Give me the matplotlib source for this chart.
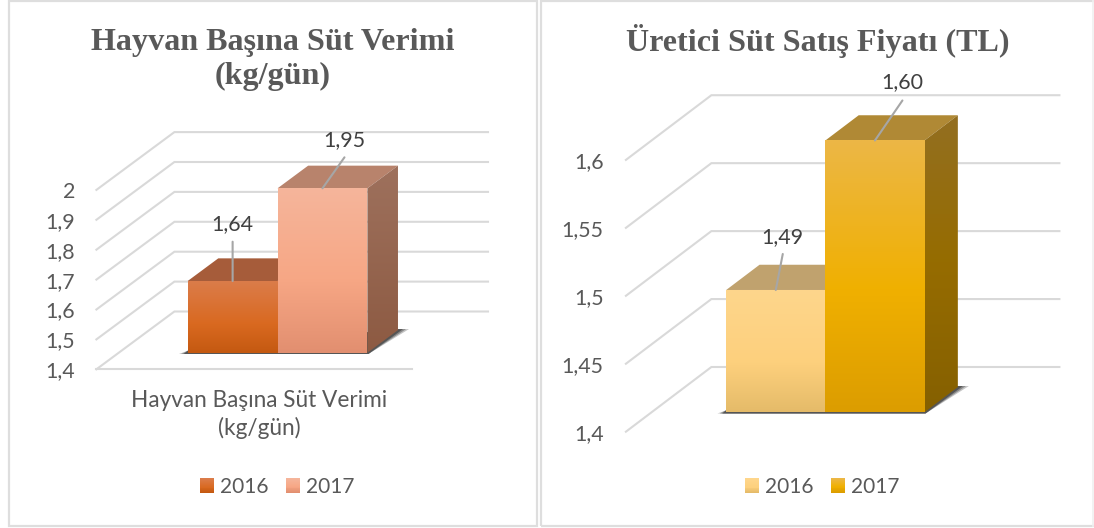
import numpy as np
import matplotlib
matplotlib.use("Agg")
import matplotlib.pyplot as plt
from matplotlib.patches import Polygon, Rectangle
from matplotlib.lines import Line2D
from matplotlib.legend_handler import HandlerBase

W, H, DPI = 1094, 528, 100

# ---- data ----
series_names = ["2016", "2017"]
milk_yield = [1.64, 1.95]
milk_labels = ["1,64", "1,95"]
milk_ticks = [1.4, 1.5, 1.6, 1.7, 1.8, 1.9, 2.0]
milk_ticklabels = ["1,4", "1,5", "1,6", "1,7", "1,8", "1,9", "2"]
milk_category = "Hayvan Başına Süt Verimi\n(kg/gün)"
milk_title = "Hayvan Başına Süt Verimi\n(kg/gün)"

price = [1.49, 1.60]
price_labels = ["1,49", "1,60"]
price_ticks = [1.4, 1.45, 1.5, 1.55, 1.6]
price_ticklabels = ["1,4", "1,45", "1,5", "1,55", "1,6"]
price_title = "Üretici Süt Satış Fiyatı (TL)"

# ---- styles ----
TXT = "#595959"
LBL = "#404040"
GRID = "#d9d9d9"
LEAD = "#a6a6a6"
FONT = "Lato"
FS = 15.4
LEGEND_FS = 15.0


def c(*rgb):
    return np.array(rgb) / 255.0


left_style = dict(
    axpx=(0, 539), y0=369.3, scale=299.0, gx=96.4, gxr=488.0, dx=78.0, dy=57.8,
    bx0=187.7, bw=89.85, tf=0.286, tb=0.678,
    tick_right=75.0, floor=411.5,
    title_xy=(273, 59.5), cat_xy=(259.5, 390),
    legend_xy=(277.5, 487),
    lead=[((0, 39.3), (0, 57)), ((22, 31), (22, 48.7))],
    faces=[
        dict(front=[(0, c(219, 124, 74)), (0.6, c(217, 105, 32)), (1, c(196, 89, 17))],
             top=c(166, 92, 58), side=[(0, c(140, 78, 45)), (1, c(125, 70, 30))]),
        dict(front=[(0, c(245, 181, 155)), (0.55, c(247, 167, 133)), (1, c(226, 143, 112))],
             top=c(184, 131, 108), side=[(0, c(158, 113, 93)), (1, c(141, 90, 66))]),
    ],
)
right_style = dict(
    axpx=(539, 1094), y0=431.7, scale=1359.0, gx=625.9, gxr=1059.4, dx=85.5, dy=64.7,
    bx0=726.2, bw=99.15, tf=0.30, tb=0.69,
    tick_right=603.6, floor=None,
    title_xy=(817.5, 41), cat_xy=None,
    legend_xy=(822, 487),
    lead=[((7, 36), (7, 53.3)), ((27.5, 40), (27.5, 58))],
    faces=[
        dict(front=[(0, c(254, 214, 140)), (0.6, c(253, 208, 125)), (1, c(229, 187, 105))],
             top=c(192, 162, 110), side=[(0, c(147, 111, 33)), (1, c(133, 96, 0))]),
        dict(front=[(0, c(236, 183, 70)), (0.55, c(240, 176, 0)), (1, c(220, 157, 0))],
             top=c(176, 137, 53), side=[(0, c(147, 111, 33)), (0.5, c(150, 108, 0)), (1, c(133, 96, 0))]),
    ],
)


def gradient(stops, n=128):
    pos = [s[0] for s in stops]
    cols = np.array([s[1] for s in stops])
    t = np.linspace(0, 1, n)
    return np.stack([np.interp(t, pos, cols[:, k]) for k in range(3)], axis=1)[:, None, :]


class GradientHandler(HandlerBase):
    def __init__(self, stops):
        super().__init__()
        self.stops = stops

    def create_artists(self, legend, orig, xd, yd, width, height, fontsize, trans):
        g = gradient(self.stops, 16)[:, 0, :]
        h = height / 16.0
        return [Rectangle((-xd, -yd + height - (i + 1) * h), width, h * 1.05, facecolor=g[i],
                          edgecolor="none", transform=trans) for i in range(16)]


fig = plt.figure(figsize=(W / DPI, H / DPI), dpi=DPI, facecolor="white")

for (x0, x1) in [(9, 537), (541, 1100)]:
    fig.add_artist(Rectangle((x0 / W, 1 - 526 / H), (x1 - x0) / W, 525 / H, transform=fig.transFigure,
                             facecolor="none", edgecolor="#dedede", linewidth=1.6))
fig.add_artist(Line2D([1093 / W, 1093 / W], [1 - 526 / H, 1], transform=fig.transFigure,
                      color="#f0f0f0", linewidth=1.2))


def panel(st, values, labels, ticks, ticklabels, title, category):
    xa, xb = st["axpx"]
    ax = fig.add_axes([xa / W, 0, (xb - xa) / W, 1])
    ax.patch.set_alpha(0)
    ax.set_autoscale_on(False)
    X = lambda px: (px - st["bx0"]) / st["bw"]
    V = lambda py: 1.4 + (st["y0"] - py) / st["scale"]
    ax.set_xlim(X(xa), X(xb))
    ax.set_ylim(V(H), V(0))
    for s in ax.spines.values():
        s.set_visible(False)
    DX = st["dx"] / st["bw"]
    DY = st["dy"] / st["scale"]
    tf, tb = st["tf"], st["tb"]

    def P(x, v, t):
        return (x + (t - tf) * DX, v + t * DY)

    # value axis and its 3-D gridlines
    ax.set_yticks(ticks, ticklabels)
    ax.tick_params(axis="y", length=0, pad=-(st["tick_right"] - xa) * 72 / DPI,
                   labelsize=FS, labelcolor=TXT)
    for lab in ax.get_yticklabels():
        lab.set_fontfamily(FONT)
        lab.set_horizontalalignment("right")
    xg, xr = X(st["gx"]), X(st["gxr"])
    for tv in ticks:
        ax.plot([xg, xg + DX, xr], [tv, tv + DY, tv + DY], color=GRID, lw=1.5,
                solid_joinstyle="miter", zorder=1)
    if st["floor"]:
        ax.plot([xg, X(st["floor"])], [ticks[0], ticks[0]], color=GRID, lw=1.5, zorder=1)

    # category axis
    if category:
        ax.set_xticks([X(st["cat_xy"][0])], [category])
        ax.tick_params(axis="x", length=0, pad=-(H - st["cat_xy"][1]) * 72 / DPI,
                       labelsize=16.3, labelcolor=TXT)
        for lab in ax.get_xticklabels():
            lab.set_fontfamily(FONT)
            lab.set_linespacing(1.33)
    else:
        ax.set_xticks([])

    # floor shadow: soft outer band, darker inner band
    n = len(values)
    px1 = 1 / st["bw"]
    vy = 1 / st["scale"]
    base = ticks[0]
    for reach, colour, zs in [(11, "#c4c4c4", 2.0), (8, "#8a8a8a", 2.1), (5, "#555555", 2.2)]:
        sh = [(-reach * 0.8 * px1, base + tf * DY - 1.2 * vy),
              (n + 1 * px1, base + tf * DY - 1.2 * vy),
              (n + (tb - tf) * DX + reach * px1, base + tb * DY + 1 * vy),
              (n + (tb - tf) * DX, base + tb * DY + 1 * vy),
              (0, base + tf * DY + 2 * vy)]
        ax.add_patch(Polygon(sh, closed=True, facecolor=colour, edgecolor="none", zorder=zs))

    z = 3

    def grad_poly(verts, stops):
        nonlocal z
        vs = np.array(verts)
        extent = (vs[:, 0].min(), vs[:, 0].max(), vs[:, 1].min(), vs[:, 1].max())
        im = ax.imshow(gradient(stops), extent=extent, aspect="auto", origin="upper",
                       interpolation="bilinear", zorder=z)
        im.set_clip_path(Polygon(verts, closed=True, transform=ax.transData))
        z += 1

    for i, val in enumerate(values):
        f = st["faces"][i]
        # top face
        ax.add_patch(Polygon([P(i, val, tf), P(i + 1, val, tf), P(i + 1, val, tb), P(i, val, tb)],
                             closed=True, facecolor=f["top"], edgecolor="none", zorder=z))
        z += 1
        # side face
        grad_poly([P(i + 1, base, tf), P(i + 1, val, tf), P(i + 1, val, tb), P(i + 1, base, tb)], f["side"])
        # front face
        grad_poly([P(i, base, tf), P(i + 1, base, tf), P(i + 1, val, tf), P(i, val, tf)], f["front"])

    # data labels with leader lines
    for i, (val, lab) in enumerate(zip(values, labels)):
        anchor = P(i + 0.5, val, tf)
        (lx, ly), (tx, ty) = st["lead"][i]
        k = 72 / DPI
        ax.annotate("", xy=anchor, xytext=(lx * k, ly * k), textcoords="offset points",
                    arrowprops=dict(arrowstyle="-", color=LEAD, lw=1.5, shrinkA=0, shrinkB=0), zorder=50)
        ax.annotate(lab, xy=anchor, xytext=(tx * k, ty * k), textcoords="offset points",
                    ha="center", va="center", fontsize=FS, family=FONT, color=LBL, zorder=51)

    # title
    tx, ty = st["title_xy"]
    ax.text((tx - xa) / (xb - xa), 1 - ty / H, title, transform=ax.transAxes, ha="center", va="center",
            family="Liberation Serif", fontweight="bold", fontsize=23.1, color=TXT, linespacing=1.24)

    # legend
    handles = [Rectangle((0, 0), 1, 1, label=n_) for n_ in series_names]
    hmap = {h: GradientHandler(st["faces"][i]["front"]) for i, h in enumerate(handles)}
    lx, ly = st["legend_xy"]
    ax.legend(handles=handles, handler_map=hmap, ncol=2, frameon=False, loc="center",
              bbox_to_anchor=((lx - xa) / (xb - xa), 1 - ly / H),
              prop=dict(family=FONT, size=LEGEND_FS), labelcolor=TXT, handlelength=0.67, handleheight=0.72,
              handletextpad=0.28, columnspacing=0.85, borderpad=0, borderaxespad=0)
    return ax


panel(left_style, milk_yield, milk_labels, milk_ticks, milk_ticklabels, milk_title, milk_category)
panel(right_style, price, price_labels, price_ticks, price_ticklabels, price_title, None)

fig.savefig("out.png", dpi=DPI, facecolor="white")
